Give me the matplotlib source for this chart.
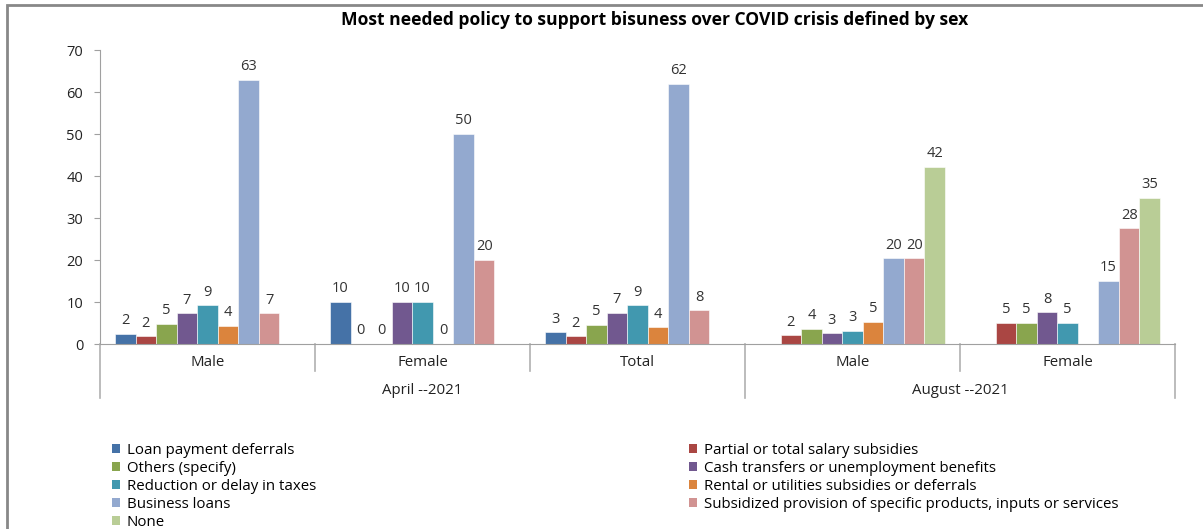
import numpy as np
import matplotlib
matplotlib.use('Agg')
from matplotlib import pyplot as plt
from matplotlib.patches import Rectangle, Patch

plt.rcParams['font.family'] = ['Open Sans', 'DejaVu Sans']

# data
series = ['Loan payment deferrals', 'Partial or total salary subsidies',
          'Others (specify)', 'Cash transfers or unemployment benefits',
          'Reduction or delay in taxes', 'Rental or utilities subsidies or deferrals',
          'Business loans', 'Subsidized provision of specific products, inputs or services',
          'None']
colors = ['#4572A7', '#AA4643', '#89A54E', '#71588F', '#4198AF',
          '#DB843D', '#93A9CF', '#D19392', '#B9CD96']

categories = ['Male', 'Female', 'Total', 'Male', 'Female']
groups = ['April --2021', 'August --2021']
group_spans = [(0, 3), (3, 5)]

nan = np.nan
april_male = [2.4, 1.8, 4.8, 7.3, 9.2, 4.3, 62.9, 7.3, nan]
april_female = [10, 0, 0, 10, 10, 0, 50, 20, nan]
april_total = [2.8, 1.8, 4.6, 7.4, 9.2, 4.0, 62.0, 8.0, nan]
august_male = [nan, 2.1, 3.6, 2.6, 3.1, 5.3, 20.4, 20.4, 42.2]
august_female = [nan, 5.1, 5.1, 7.6, 5.1, nan, 15.1, 27.6, 34.8]

values = np.array([april_male, april_female, april_total, august_male, august_female])

W, H = 1203, 529
fig = plt.figure(figsize=(W / 100, H / 100), dpi=100)
ax = fig.add_axes([100 / W, (H - 344) / H, 1075 / W, 294 / H])

n = len(series)
bw = 0.86 / n
x0 = np.arange(len(categories)) + 0.5
for j in range(n):
    xs = x0 + (j - (n - 1) / 2) * bw
    ys = values[:, j]
    ax.bar(xs, np.nan_to_num(ys), width=bw, color=colors[j],
           edgecolor='white', linewidth=0.4, label=series[j])
    for xv, yv in zip(xs, ys):
        if np.isnan(yv):
            continue
        ax.annotate(f'{yv:.0f}', (xv, yv), xytext=(0, 4), textcoords='offset points',
                    ha='center', va='bottom', fontsize=10.5, color='#333333')

ax.set_xlim(0, len(categories))
ax.set_ylim(0, 70)
ax.set_yticks(range(0, 71, 10))
ax.set_xticks([])
ax.tick_params(axis='y', direction='out', length=4, color='#a0a0a0',
               labelsize=10.5, labelcolor='#222222', pad=8)
for s in ['top', 'right']:
    ax.spines[s].set_visible(False)
for s in ['left', 'bottom']:
    ax.spines[s].set_color('#a0a0a0')

# multi-level category axis
tr = ax.get_xaxis_transform()
short_y, long_y = -27 / 294, -54 / 294
group_edges = {a for a, b in group_spans} | {b for a, b in group_spans}
for k in range(len(categories) + 1):
    yend = long_y if k in group_edges else short_y
    ax.plot([k, k], [0, yend], transform=tr, color='#b0b0b0', lw=1.2, clip_on=False)
for i, c in enumerate(categories):
    ax.text(i + 0.5, -19 / 294, c, transform=tr, ha='center', va='center',
            fontsize=10.8, color='#222222')
for g, (a, b) in zip(groups, group_spans):
    ax.text((a + b) / 2, -46 / 294, g, transform=tr, ha='center', va='center',
            fontsize=10.8, color='#222222')

fig.text(655 / W, 1 - 20 / H, 'Most needed policy to support bisuness over COVID crisis defined by sex',
         ha='center', va='center', fontsize=12.6, fontweight='bold')

# legend in two columns, row-major order
handles = [Patch(facecolor=c, edgecolor='none') for c in colors]
left_idx = [0, 2, 4, 6, 8]
right_idx = [1, 3, 5, 7]
common = dict(loc='upper left', frameon=False, fontsize=10.8, borderpad=0,
              borderaxespad=0, handlelength=0.55, handleheight=0.55,
              handletextpad=0.45, labelspacing=0.2)
leg1 = fig.legend([handles[i] for i in left_idx], [series[i] for i in left_idx],
                  bbox_to_anchor=(112 / W, 1 - 443 / H), **common)
leg2 = fig.legend([handles[i] for i in right_idx], [series[i] for i in right_idx],
                  bbox_to_anchor=(689 / W, 1 - 443 / H), **common)

# outer chart border (cropped on right and bottom)
fig.patches.append(Rectangle((7 / W, -0.05), 1.1, 1 - 5 / H + 0.05, transform=fig.transFigure,
                             fill=False, edgecolor='#888888', linewidth=2))

fig.savefig('out.png', dpi=100)
